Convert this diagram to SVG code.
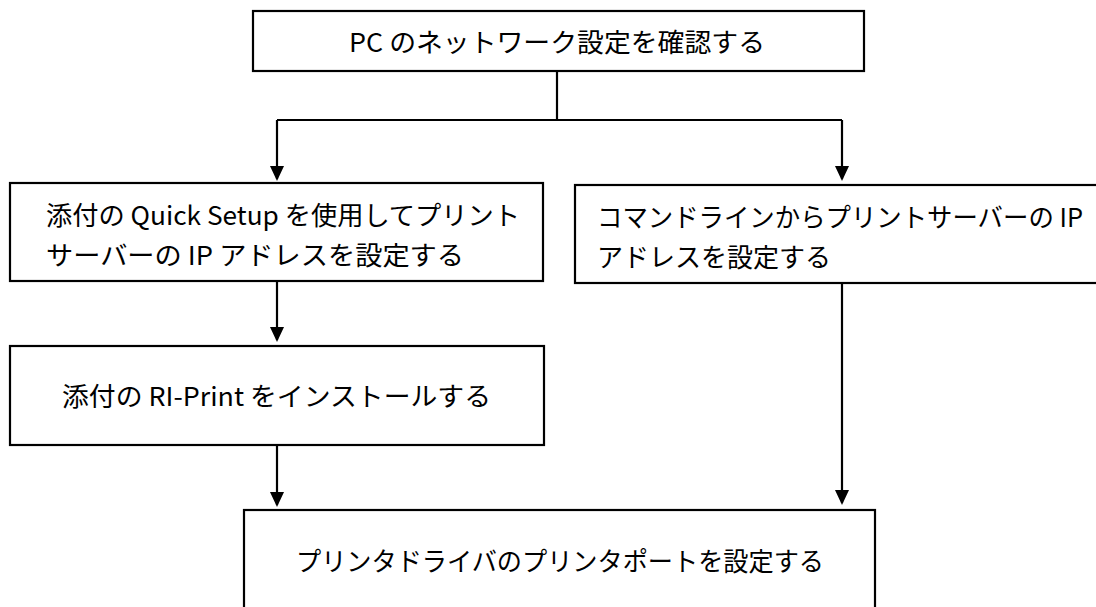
<svg xmlns="http://www.w3.org/2000/svg" width="1096" height="607" viewBox="0 0 1096 607">
<style>
.box{fill:#fff;stroke:#000;stroke-width:2.2}
.t{font-family:"Noto Sans CJK JP","Noto Sans",sans-serif;font-size:26px;fill:#000}
.c{fill:none;stroke:#000;stroke-width:2.2}
.a{marker-end:url(#arr)}
</style>
<defs>
<marker id="arr" markerUnits="userSpaceOnUse" markerWidth="15" markerHeight="14" refX="13" refY="7" orient="auto" viewBox="0 0 15 14">
<path d="M0,0 L15,7 L0,14 Z" fill="#000"/>
</marker>
</defs>
<rect width="1096" height="607" fill="#fff"/>
<g id="connectors">
<polyline class="c" points="557,71 557,120"/>
<polyline class="c" points="277,120 842,120"/>
<line class="c a" x1="277" y1="120" x2="277" y2="179"/>
<line class="c a" x1="842" y1="120" x2="842" y2="179"/>
<line class="c a" x1="277" y1="281" x2="277" y2="340"/>
<line class="c a" x1="277" y1="445" x2="277" y2="505"/>
<line class="c a" x1="842" y1="283" x2="842" y2="503"/>
</g>
<g id="n1">
<rect class="box" x="253" y="11" width="611" height="60"/>
<text class="t" x="349" y="52" textLength="416" lengthAdjust="spacingAndGlyphs">PC のネットワーク設定を確認する</text>
</g>
<g id="n2">
<rect class="box" x="10" y="183" width="533" height="98"/>
<text class="t" x="46" y="225" textLength="474" lengthAdjust="spacingAndGlyphs">添付の Quick Setup を使用してプリント</text>
<text class="t" x="46" y="265" textLength="418" lengthAdjust="spacingAndGlyphs">サーバーの IP アドレスを設定する</text>
</g>
<g id="n3">
<rect class="box" x="575" y="185" width="530" height="98"/>
<text class="t" x="597" y="227" textLength="486" lengthAdjust="spacingAndGlyphs">コマンドラインからプリントサーバーの IP</text>
<text class="t" x="597" y="267" textLength="234" lengthAdjust="spacingAndGlyphs">アドレスを設定する</text>
</g>
<g id="n4">
<rect class="box" x="10" y="346" width="534" height="99"/>
<text class="t" x="62" y="406" textLength="429" lengthAdjust="spacingAndGlyphs">添付の RI-Print をインストールする</text>
</g>
<g id="n5">
<rect class="box" x="244" y="510" width="631" height="120"/>
<text class="t" x="296" y="571" textLength="528" lengthAdjust="spacingAndGlyphs">プリンタドライバのプリンタポートを設定する</text>
</g>
</svg>
